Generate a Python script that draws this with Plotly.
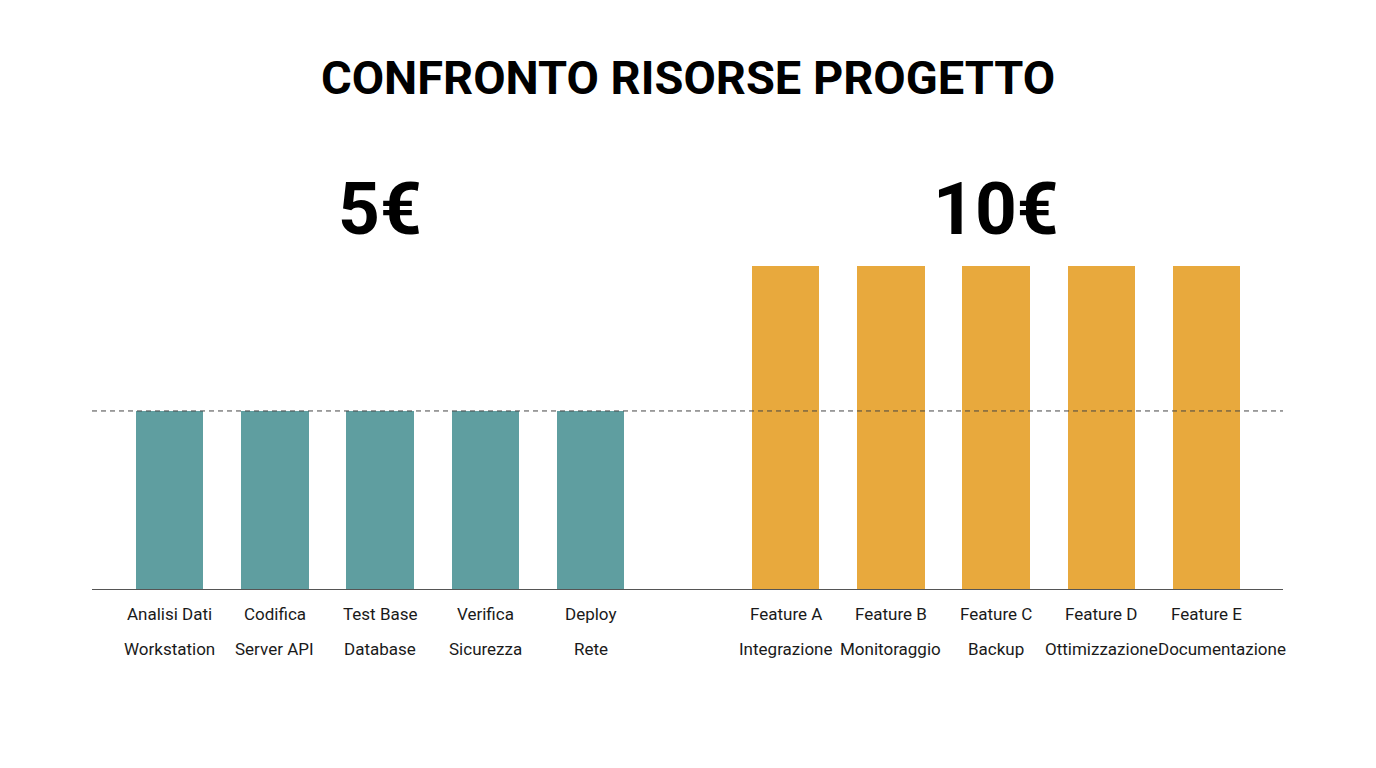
import plotly.graph_objects as go

# ---- data ----
group_a_line1 = ["Analisi Dati", "Codifica", "Test Base", "Verifica", "Deploy"]
group_a_line2 = ["Workstation", "Server API", "Database", "Sicurezza", "Rete"]
group_a_values = [5, 5, 5, 5, 5]

group_b_line1 = ["Feature A", "Feature B", "Feature C", "Feature D", "Feature E"]
group_b_line2 = ["Integrazione", "Monitoraggio", "Backup", "Ottimizzazione", "Documentazione"]
group_b_values = [10, 10, 10, 10, 10]

group_titles = ["5€", "10€"]
reference_value = 5
title_text = "CONFRONTO RISORSE PROGETTO"

# ---- layout / style ----
TEAL = "#5F9EA0"
ORANGE = "#E8A93D"
GROUP_OFFSET = 5.85
Y_FLOOR = -1.14
Y_TOP = 14.0
LABEL_FONT = "Roboto, sans-serif"
LABEL_COLOR = "#1a1a1a"

xa = list(range(len(group_a_values)))
xb = [GROUP_OFFSET + i for i in range(len(group_b_values))]

fig = go.Figure()
fig.add_trace(go.Bar(x=xa, y=[v - Y_FLOOR for v in group_a_values], base=Y_FLOOR,
                     width=0.64, marker=dict(color=TEAL, line=dict(width=0)),
                     hoverinfo="skip", showlegend=False))
fig.add_trace(go.Bar(x=xb, y=[v - Y_FLOOR for v in group_b_values], base=Y_FLOOR,
                     width=0.64, marker=dict(color=ORANGE, line=dict(width=0)),
                     hoverinfo="skip", showlegend=False))

# dashed reference line
fig.add_shape(type="line", xref="paper", x0=0, x1=1, yref="y",
              y0=reference_value, y1=reference_value,
              line=dict(color="#444444", width=1, dash="5px,4px"), layer="above")

annotations = []
groups = [(xa, group_a_line1, group_a_line2), (xb, group_b_line1, group_b_line2)]
for gi, (xs, l1, l2) in enumerate(groups):
    for i, (x, t1, t2) in enumerate(zip(xs, l1, l2)):
        # last label of the second group is nudged right so it does not collide with its neighbour
        shift = 15 if (gi == 1 and i == len(xs) - 1) else 0
        annotations.append(dict(x=x, xref="x", y=0, yref="paper", text=t1, showarrow=False,
                                yanchor="middle", yshift=-25,
                                font=dict(family=LABEL_FONT, size=17, color=LABEL_COLOR)))
        annotations.append(dict(x=x, xref="x", y=0, yref="paper", text=t2, showarrow=False,
                                yanchor="middle", yshift=-60, xshift=shift,
                                font=dict(family=LABEL_FONT, size=17, color=LABEL_COLOR)))

centers = [sum(xa) / len(xa), sum(xb) / len(xb)]
for c, t in zip(centers, group_titles):
    annotations.append(dict(x=c, xref="x", y=0.8667, yref="paper", text=f"<b>{t}</b>",
                            showarrow=False, yanchor="middle",
                            font=dict(family="Roboto", size=73, color="#000000")))

fig.update_layout(
    width=1376, height=768,
    paper_bgcolor="white", plot_bgcolor="white",
    margin=dict(l=92, r=93, t=150, b=179),
    title=dict(text=f"<b>{title_text}</b>", x=0.5, xanchor="center",
               y=1 - 78 / 768, yanchor="middle", yref="container",
               font=dict(family="Roboto", size=47, color="#000000")),
    xaxis=dict(range=[-0.736, 10.574], showticklabels=False, showgrid=False, zeroline=False,
               showline=True, linecolor="#555555", linewidth=1, ticks=""),
    yaxis=dict(range=[Y_FLOOR, Y_TOP], visible=False, showgrid=False, zeroline=False),
    bargap=0,
    annotations=annotations,
)

fig.write_html("out.html", config={"displayModeBar": False},
               post_script="document.body.style.margin='0';")
